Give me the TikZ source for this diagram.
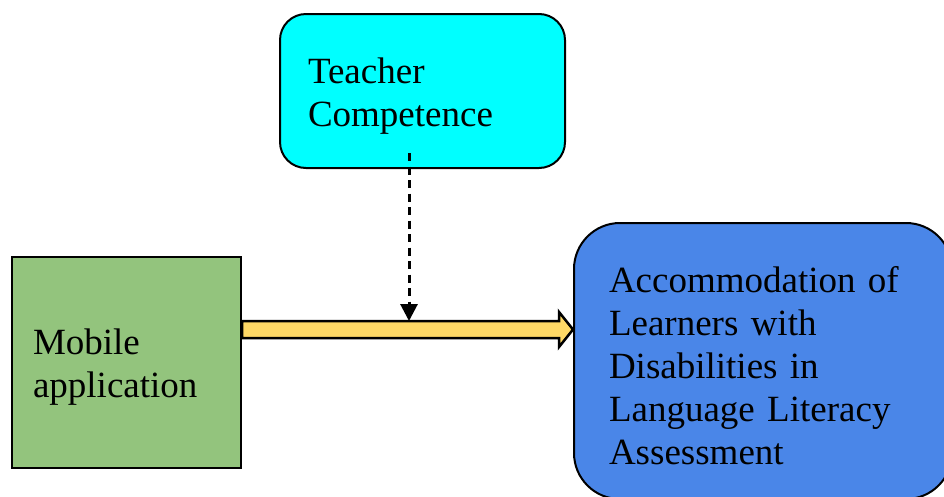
\documentclass[tikz,border=0pt]{standalone}
\usepackage{fontspec}
\setmainfont{Liberation Serif}
\usetikzlibrary{arrows.meta,calc}
\definecolor{cgreen}{HTML}{93C47D}
\definecolor{ccyan}{HTML}{00FFFF}
\definecolor{cblue}{HTML}{4A86E8}
\definecolor{cyel}{HTML}{FFD966}
\tikzset{
  box/.style={draw=black, line width=2pt, inner sep=0pt},
  txt/.style={align=left, inner sep=0pt, font=\fontsize{37}{43}\selectfont},
  yarrow/.style={draw=black, fill=cyel, line width=2.5pt, line join=miter},
  dasharrow/.style={draw=black, line width=3pt, dash pattern=on 8pt off 5.5pt,
    -{Triangle[length=17pt,width=17pt]}}
}
\begin{document}
\begin{tikzpicture}[x=1pt,y=-1pt]
\useasboundingbox (0,0) rectangle (944,496);
\node[box, fill=cgreen, minimum width=229pt, minimum height=211pt] (mob) at (126.5,362.5) {};
\node[txt, text width=187pt] (mobt) at ($(mob.center)+(0,5)$) {Mobile\\application};
\node[box, fill=ccyan, rounded corners=26pt, minimum width=285pt, minimum height=154pt] (tc) at (422.5,91) {};
\node[txt, text width=229pt] (tct) at ($(tc.center)+(0,5)$) {Teacher\\Competence};
\node[box, fill=cblue, rounded corners=46pt, minimum width=378pt, minimum height=276pt] (acc) at (763,361) {};
\node[txt, text width=308pt] (acct) at ($(acc.center)+(0,5)$) {Accommodation of\\Learners with\\Disabilities in\\Language Literacy\\Assessment};
\coordinate (a0) at (mob.east |- 0,329.5);
\coordinate (a1) at (acc.west |- 0,329.5);
\draw[yarrow] ($(a0)+(0,-8.5)$) -- ($(a1)+(-14,-8.5)$) -- ($(a1)+(-14,-17.5)$) -- (a1)
  -- ($(a1)+(-14,17.5)$) -- ($(a1)+(-14,8.5)$) -- ($(a0)+(0,8.5)$) -- cycle;
\coordinate (d0) at (409,153);
\coordinate (d1) at (409,321);
\draw[dasharrow] (d0) -- (d1);
\end{tikzpicture}
\end{document}
